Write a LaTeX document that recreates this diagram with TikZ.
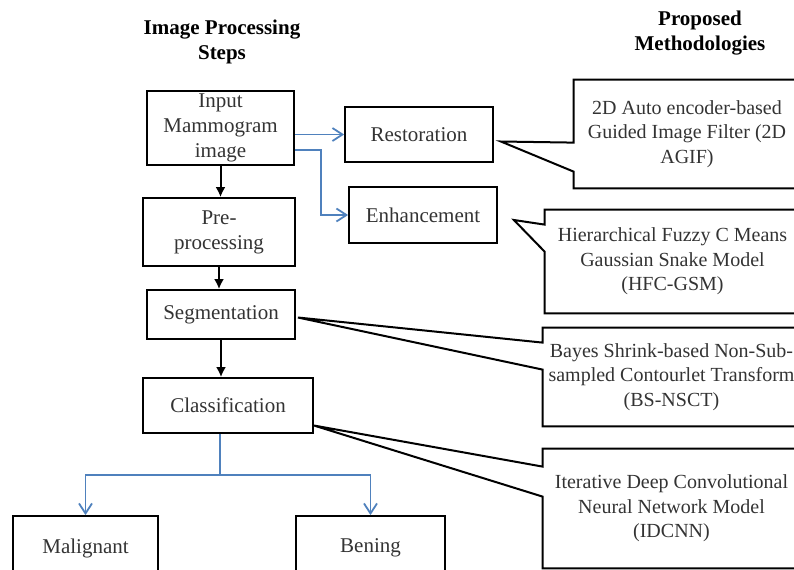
\documentclass[tikz,border=0pt]{standalone}
\usepackage{xcolor}
\usepackage{fontspec}
\setmainfont{Liberation Serif}
\usepackage{tikz}
\usetikzlibrary{arrows.meta}
\definecolor{flowblue}{HTML}{4F81BD}

\begin{document}
\begin{tikzpicture}[x=0.5pt, y=-0.5pt,
    stepbox/.style={draw, line width=0.9pt, align=center, text=black!80, font=\fontsize{10.5}{12.4}\selectfont, inner sep=0pt},
    methodtext/.style={align=center, text=black!80, font=\fontsize{10}{12.3}\selectfont, inner sep=0pt},
    headtext/.style={align=center, font=\bfseries\fontsize{10.5}{12.5}\selectfont},
    callline/.style={line width=1pt, line join=miter},
    down/.style={line width=1pt, -{Latex[length=5pt, width=5pt]}},
    branch/.style={draw=flowblue, line width=0.9pt, -{Straight Barb[length=5pt, width=6.5pt]}}]
        \useasboundingbox (0, 0) rectangle (794, 569);
        \clip (0, 0) rectangle (794, 569);
        \node[headtext] at (222, 42) (head1) {Image Processing\\Steps};
        \node[headtext] at (700, 33) (head2) {Proposed\\Methodologies};
        \node[stepbox, minimum width=73.5pt, minimum height=37pt] at (220.5, 128) (input) {Input\\Mammogram\\image};
        \node[stepbox, minimum width=74pt, minimum height=27.5pt] at (419, 134.5) (rest) {Restoration};
        \node[stepbox, minimum width=74pt, minimum height=28pt] at (423, 215) (enh) {Enhancement};
        \node[stepbox, minimum width=76pt, minimum height=34pt] at (219, 232) (pre) {Pre-\\processing};
        \node[stepbox, minimum width=74pt, minimum height=24.5pt] at (221, 314.5) (seg) {Segmentation};
        \node[stepbox, minimum width=85pt, minimum height=27.5pt] at (228, 405.5) (cls) {Classification};
        \node[stepbox, minimum width=72.5pt, minimum height=32pt] at (85.5, 548) (mal) {Malignant};
        \node[stepbox, minimum width=74.5pt, minimum height=32pt] at (370.5, 548) (ben) {Bening};
        \node[methodtext, minimum width=113pt, minimum height=54pt] at (687, 134) (agif) {2D Auto encoder-based\\Guided Image Filter (2D\\AGIF)};
        \node[methodtext, minimum width=127.5pt, minimum height=51.5pt] at (672.5, 261.5) (hfc) {Hierarchical Fuzzy C Means\\Gaussian Snake Model\\(HFC-GSM)};
        \node[methodtext, minimum width=128.5pt, minimum height=49pt] at (671.5, 377) (nsct) {Bayes Shrink-based Non-Sub-\\sampled Contourlet Transform\\(BS-NSCT)};
        \node[methodtext, minimum width=128.5pt, minimum height=59.5pt] at (671.5, 508.5) (idcnn) {Iterative Deep Convolutional\\Neural Network Model\\(IDCNN)};
        \coordinate (tip1) at ([shift={(3.5pt,-3.5pt)}]rest.east);
        \coordinate (tip2) at ([shift={(8pt,-2.5pt)}]enh.east);
        \coordinate (tip3) at ([shift={(1pt,-1.5pt)}]seg.east);
        \coordinate (tip4) at ([yshift=-10pt]cls.east);
        \coordinate (split) at (220, 475);
        \draw[down] (input.south) -- (input.south |- pre.north);
        \draw[down] (pre.south) -- (pre.south |- seg.north);
        \draw[down] (seg.south) -- (seg.south |- cls.north);
        \draw[branch] (input.east |- rest.west) -- (rest.west);
        \draw[branch] ([yshift=-11pt]input.east) -| ([xshift=-13.5pt]enh.west) -- (enh.west);
        \draw[flowblue, line width=0.9pt] (cls.south -| split) -- (split);
        \draw[branch] (split) -| (mal.north);
        \draw[branch] (split) -| (ben.north);
        \draw[callline] (agif.north west) -- (agif.north east) -- (agif.south east) -- (agif.south west) -- ([yshift=-46pt]agif.north west) -- (tip1) -- ([yshift=-31.5pt]agif.north west) -- cycle;
        \draw[callline] (hfc.north west) -- (hfc.north east) -- (hfc.south east) -- (hfc.south west) -- ([yshift=-21pt]hfc.north west) -- (tip2) -- ([yshift=-7.5pt]hfc.north west) -- cycle;
        \draw[callline] (nsct.north west) -- (nsct.north east) -- (nsct.south east) -- (nsct.south west) -- ([yshift=-21pt]nsct.north west) -- (tip3) -- ([yshift=-7.5pt]nsct.north west) -- cycle;
        \draw[callline] (idcnn.north west) -- (idcnn.north east) -- (idcnn.south east) -- (idcnn.south west) -- ([yshift=-24pt]idcnn.north west) -- (tip4) -- ([yshift=-9pt]idcnn.north west) -- cycle;
    \end{tikzpicture}
\end{document}
